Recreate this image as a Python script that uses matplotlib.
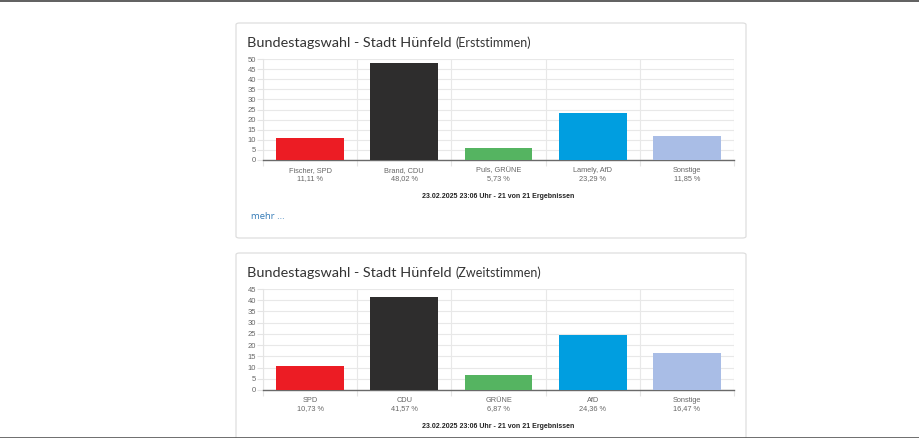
import matplotlib
matplotlib.use("Agg")
import matplotlib.pyplot as plt
from matplotlib.patches import FancyBboxPatch
from matplotlib.lines import Line2D

# Daten
erst_namen = ["Fischer, SPD", "Brand, CDU", "Puls, GRÜNE", "Lamely, AfD", "Sonstige"]
erst_werte = [11.11, 48.02, 5.73, 23.29, 11.85]
zweit_namen = ["SPD", "CDU", "GRÜNE", "AfD", "Sonstige"]
zweit_werte = [10.73, 41.57, 6.87, 24.36, 16.47]
farben = ["#ec1c24", "#2e2d2d", "#55b461", "#009ee0", "#a9bde6"]
stand = "23.02.2025 23:06 Uhr - 21 von 21 Ergebnissen"

W, H = 920, 438
fig = plt.figure(figsize=(W / 100, H / 100), dpi=100)
fig.patch.set_facecolor("white")


def fx(x):
    return x / W


def fy(y):
    return 1 - y / H


# Linien oben und unten
fig.add_artist(Line2D([0, 1], [fy(0.5), fy(0.5)], color="#444444", lw=1.2))
fig.add_artist(Line2D([0, 1], [fy(437.5), fy(437.5)], color="#555555", lw=1.2))


def karte(top, bottom):
    box = FancyBboxPatch((fx(236), fy(bottom)), fx(746) - fx(236), fy(top) - fy(bottom),
                         boxstyle="round,pad=0,rounding_size=0.004",
                         transform=fig.transFigure, facecolor="white",
                         edgecolor="#dedede", lw=0.9, zorder=-5)
    fig.add_artist(box)


def chart(top_px, zero_px, ymax, namen, werte, titel, zusatz):
    ax = fig.add_axes([fx(263), fy(zero_px), fx(734) - fx(263), fy(top_px) - fy(zero_px)])
    ax.set_zorder(2)
    ax.patch.set_alpha(0)
    x = list(range(len(werte)))
    ax.bar(x, werte, width=0.72, color=farben, zorder=3)
    ax.set_xlim(-0.5, len(werte) - 0.5)
    ax.set_ylim(0, ymax)
    ax.set_yticks(range(0, ymax + 1, 5))
    ax.set_xticks(x)
    labels = [n + "\n" + ("%.2f" % w).replace(".", ",") + " %" for n, w in zip(namen, werte)]
    ax.set_xticklabels(labels, fontsize=5.3, color="#666666", family="Liberation Sans",
                       linespacing=1.25)
    ax.set_xticks([i - 0.5 for i in range(len(werte) + 1)], minor=True)
    ax.tick_params(axis="x", which="major", length=0, pad=5)
    ax.tick_params(axis="x", which="minor", length=4, color="#e4e4e4", width=0.8)
    ax.tick_params(axis="y", length=4, color="#e4e4e4", width=0.8, labelsize=5.5,
                   labelcolor="#666666", pad=1)
    for t in ax.get_yticklabels():
        t.set_family("Liberation Sans")
    ax.grid(axis="y", color="#e8e8e8", lw=0.8, zorder=0)
    ax.grid(axis="x", which="minor", color="#e8e8e8", lw=0.8, zorder=0)
    for s in ["top", "right"]:
        ax.spines[s].set_visible(False)
    ax.spines["left"].set_color("#e4e4e4")
    ax.spines["left"].set_linewidth(0.8)
    ax.spines["bottom"].set_color("#6a6a6a")
    ax.spines["bottom"].set_linewidth(1.0)
    ax.set_axisbelow(True)

    t = fig.text(fx(247), fy(top_px - 12), titel, fontsize=10.4, color="#333333",
                 family="Lato", va="baseline")
    fig.canvas.draw()
    bb = t.get_window_extent()
    fig.text(bb.x1 / W + fx(4), fy(top_px - 12), zusatz, fontsize=9, color="#333333",
             family="Lato", va="baseline")
    return ax


karte(23, 238)
karte(253, 445)

chart(59, 160, 50, erst_namen, erst_werte, "Bundestagswahl - Stadt Hünfeld", "(Erststimmen)")
fig.text(fx(498.5), fy(197), stand, ha="center", va="center", fontsize=5.0,
         fontweight="bold", color="#222222", family="Liberation Sans")
fig.text(fx(251), fy(216.5), "mehr ...", ha="left", va="center", fontsize=6.8,
         color="#337ab7", family="Open Sans")

chart(289, 390, 45, zweit_namen, zweit_werte, "Bundestagswahl - Stadt Hünfeld", "(Zweitstimmen)")
fig.text(fx(498.5), fy(426), stand, ha="center", va="center", fontsize=5.0,
         fontweight="bold", color="#222222", family="Liberation Sans")

fig.savefig("out.png", dpi=100, facecolor="white")
